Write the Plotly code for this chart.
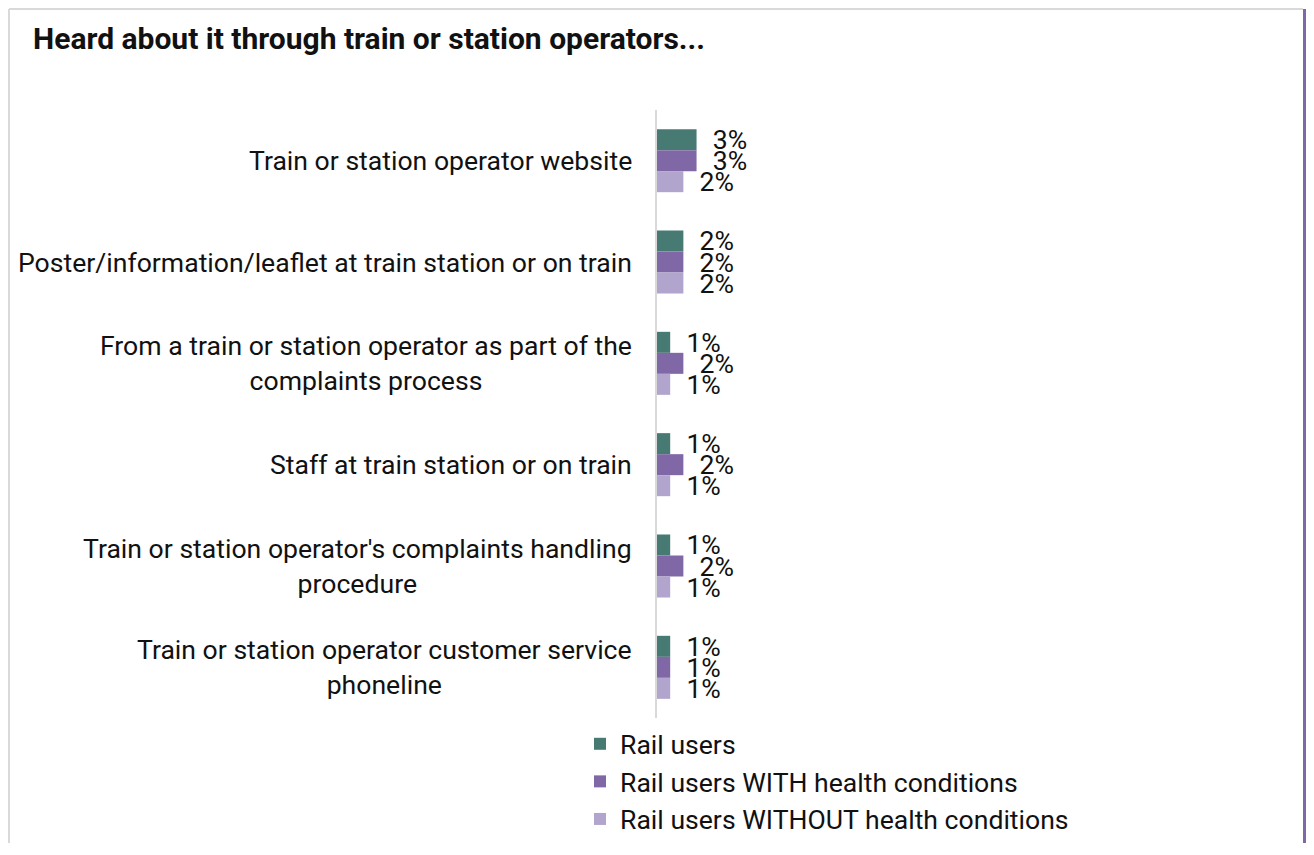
import plotly.graph_objects as go

# data (percent)
categories = [
    "Train or station operator website",
    "Poster/information/leaflet at train station or on train",
    "From a train or station operator as part of the<br>complaints process",
    "Staff at train station or on train",
    "Train or station operator's complaints handling<br>procedure",
    "Train or station operator customer service<br>phoneline",
]
rail_users = [3, 2, 1, 1, 1, 1]
with_health = [3, 2, 2, 2, 2, 1]
without_health = [2, 2, 1, 1, 1, 1]

series_names = [
    "Rail users",
    "Rail users WITH health conditions",
    "Rail users WITHOUT health conditions",
]
series_colors = ["#477a72", "#8068a6", "#b2a5cd"]

FONT = "Roboto, Arial, sans-serif"
W, H = 1298, 835
ML, MR, MT, MB = 649, 16, 102, 125
PW, PH = W - ML - MR, H - MT - MB


def px_x(x):
    return (x - ML) / PW


def px_y(y):
    return 1 - (y - MT) / PH


fig = go.Figure()

for name, values, color in zip(series_names, [rail_users, with_health, without_health], series_colors):
    fig.add_trace(
        go.Bar(
            y=categories,
            x=values,
            name=name,
            orientation="h",
            marker=dict(color=color, line=dict(width=0)),
            text=values,
            texttemplate="\u00a0\u00a0%{x}%",
            textposition="outside",
            textfont=dict(size=26.6, color="#111111", family=FONT),
            constraintext="none",
            cliponaxis=False,
        )
    )

# category labels as centred text to the left of the axis
for cat in categories:
    fig.add_annotation(
        x=0, xref="paper", y=cat, yref="y",
        text=cat, showarrow=False,
        xanchor="right", yanchor="middle", align="center",
        xshift=-23,
        font=dict(size=26.6, color="#111111", family=FONT),
    )

# card border
border = "#d9d9d9"
fig.add_shape(type="line", xref="paper", yref="paper",
              x0=px_x(1), x1=px_x(1), y0=px_y(1), y1=px_y(H + 20),
              line=dict(color=border, width=2))
fig.add_shape(type="line", xref="paper", yref="paper",
              x0=px_x(1), x1=px_x(1295), y0=px_y(1), y1=px_y(1),
              line=dict(color=border, width=2))
fig.add_shape(type="line", xref="paper", yref="paper",
              x0=px_x(1296.5), x1=px_x(1296.5), y0=px_y(1), y1=px_y(H + 20),
              line=dict(color="#8068a6", width=3))

fig.update_layout(
    width=W,
    height=H,
    margin=dict(l=ML, r=MR, t=MT, b=MB, autoexpand=False),
    barmode="group",
    bargap=0.378,
    bargroupgap=0,
    plot_bgcolor="white",
    paper_bgcolor="white",
    font=dict(family=FONT, size=26.6, color="#111111"),
    title=dict(
        text="<b>Heard about it through train or station operators...</b>",
        font=dict(size=30, color="#111111", family=FONT),
        xref="container", x=25 / W, xanchor="left",
        yref="container", y=1 - 30 / H, yanchor="middle",
    ),
    legend=dict(
        x=px_x(572), xanchor="left",
        y=px_y(712), yanchor="top",
        font=dict(size=26.6, family=FONT, color="#111111"),
        traceorder="normal",
        bgcolor="rgba(0,0,0,0)",
    ),
    showlegend=True,
)

fig.update_xaxes(range=[0, 48], showticklabels=False, showgrid=False, zeroline=False, showline=False)
fig.update_yaxes(
    autorange="reversed",
    showticklabels=False,
    showgrid=False,
    zeroline=False,
    showline=True,
    linecolor="#d9d9d9",
    linewidth=2,
    ticks="",
)

fig.write_html("out.html")
